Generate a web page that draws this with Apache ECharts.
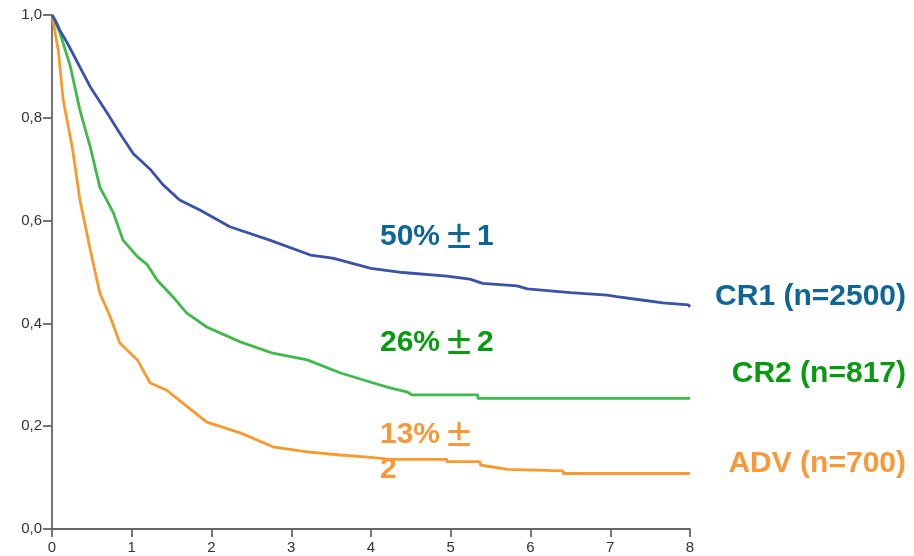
<!DOCTYPE html>
<html>
<head>
<meta charset="utf-8">
<script src="https://cdn.jsdelivr.net/npm/echarts@6/dist/echarts.min.js"></script>
<style>
  html, body { margin: 0; padding: 0; background: #fff; }
  #chart { width: 914px; height: 556px; }
</style>
</head>
<body>
<div id="chart"></div>
<script>
// survival curves, [years, probability]
const cr1 = [
  [0, 1.0], [0.04, 0.99], [0.1, 0.97], [0.19, 0.946], [0.48, 0.86], [0.69, 0.81],
  [0.85, 0.77], [1.02, 0.73], [1.23, 0.70], [1.39, 0.67], [1.6, 0.64], [1.86, 0.62],
  [2.23, 0.588], [2.73, 0.562], [3.24, 0.533], [3.52, 0.527], [4.0, 0.507],
  [4.4, 0.499], [4.95, 0.492], [5.24, 0.486], [5.4, 0.478], [5.83, 0.473],
  [5.96, 0.467], [6.5, 0.46], [6.96, 0.455], [7.08, 0.452], [7.37, 0.446],
  [7.66, 0.44], [7.98, 0.436], [8.0, 0.432]
];
const cr2 = [
  [0, 1.0], [0.1, 0.965], [0.23, 0.9], [0.35, 0.815], [0.48, 0.743], [0.6, 0.665],
  [0.77, 0.615], [0.89, 0.562], [1.07, 0.53], [1.19, 0.515], [1.32, 0.484],
  [1.52, 0.451], [1.69, 0.42], [1.94, 0.393], [2.36, 0.364], [2.77, 0.342],
  [3.2, 0.329], [3.61, 0.304], [4.03, 0.284], [4.25, 0.274], [4.45, 0.267],
  [4.51, 0.261], [5.34, 0.261], [5.34, 0.254], [8.0, 0.254]
];
const adv = [
  [0, 1.0], [0.08, 0.93], [0.14, 0.835], [0.26, 0.737], [0.35, 0.64], [0.48, 0.543],
  [0.6, 0.459], [0.73, 0.413], [0.85, 0.362], [1.07, 0.329], [1.23, 0.284],
  [1.44, 0.27], [1.64, 0.245], [1.94, 0.208], [2.36, 0.187], [2.77, 0.16],
  [3.2, 0.15], [3.61, 0.144], [4.0, 0.1395], [4.24, 0.1356], [4.95, 0.1356],
  [4.95, 0.131], [5.37, 0.131], [5.37, 0.1245], [5.71, 0.116], [6.41, 0.113],
  [6.41, 0.108], [8.0, 0.108]
];

const groupNames = ['CR1 (n=2500)', 'CR2 (n=817)', 'ADV (n=700)'];
const rateLabels = [['50%', '1'], ['26%', '2'], ['13%', '\n2']];
const lineColors = ['#3b51aa', '#3dba4a', '#f89b2c'];
const textColors = ['#0f6696', '#0a9a12', '#f7993a'];

const chart = echarts.init(document.getElementById('chart'));

const font = 'Liberation Sans, Arial, sans-serif';
const axisLineStyle = { color: '#666', width: 1.8 };

function rateText(i, x, y) {
  return {
    type: 'text',
    left: x,
    top: y,
    style: {
      text: '{a|' + rateLabels[i][0] + '}{b|±}{a|' + rateLabels[i][1] + '}',
      rich: {
        a: { fontFamily: font, fontSize: 30, fontWeight: 'bold', fill: textColors[i], lineHeight: 35 },
        b: { fontFamily: 'Noto Sans CJK JP', fontSize: 30, fontWeight: 'bold', fill: textColors[i], lineHeight: 35, padding: [0, 3, 0, 4] }
      }
    }
  };
}

function groupText(i, y) {
  return {
    type: 'text',
    right: 8,
    top: y,
    style: {
      text: groupNames[i],
      fontFamily: font,
      fontSize: 30,
      fontWeight: 'bold',
      fill: textColors[i]
    }
  };
}

chart.setOption({
  animation: false,
  grid: { left: 52, right: 224, top: 15, bottom: 27 },
  xAxis: {
    type: 'value',
    min: 0,
    max: 8,
    interval: 1,
    axisLine: { lineStyle: axisLineStyle },
    axisTick: { show: true, inside: false, length: 8, lineStyle: axisLineStyle },
    axisLabel: { color: '#333', fontSize: 15, fontFamily: font, margin: 11 },
    splitLine: { show: false }
  },
  yAxis: {
    type: 'value',
    min: 0,
    max: 1,
    interval: 0.2,
    axisLine: { show: true, lineStyle: axisLineStyle },
    axisTick: { show: true, inside: false, length: 9, lineStyle: axisLineStyle },
    axisLabel: {
      color: '#333',
      fontSize: 15,
      fontFamily: font,
      margin: 10,
      formatter: v => v.toFixed(1).replace('.', ',')
    },
    splitLine: { show: false }
  },
  series: [cr1, cr2, adv].map((d, i) => ({
    name: groupNames[i],
    type: 'line',
    data: d,
    showSymbol: false,
    symbol: 'none',
    lineStyle: { color: lineColors[i], width: 2.8 },
    z: 3 - i
  })),
  graphic: [
    rateText(0, 380, 222),
    rateText(1, 380, 328),
    rateText(2, 380, 420),
    groupText(0, 282),
    groupText(1, 359),
    groupText(2, 449)
  ]
});
</script>
</body>
</html>
